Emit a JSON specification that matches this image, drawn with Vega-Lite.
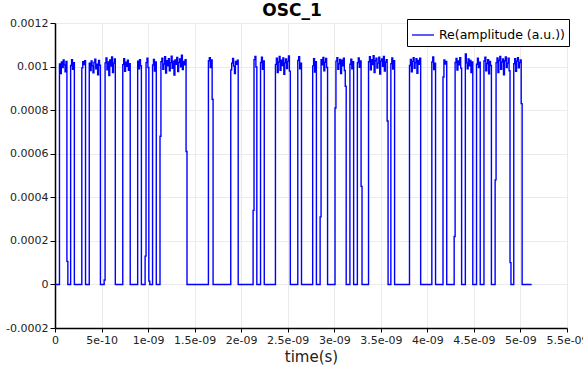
{
"$schema":"https://vega.github.io/schema/vega-lite/v6.json",
"width":512,"height":305,
"autosize":{"type":"none"},
"padding":{"left":55,"top":23,"right":16,"bottom":40},
"background":"white",
"title":{"text":"OSC_1","fontSize":17,"fontWeight":"bold","font":"DejaVu Sans","color":"black","anchor":"middle","frame":"group","dx":-19,"dy":7,"offset":4},
"data":{"values":[
{"t":0,"v":0},
{"t":48e-12,"v":1012e-6},{"t":58e-12,"v":968e-6},{"t":68e-12,"v":1021e-6},{"t":78e-12,"v":995e-6},{"t":88e-12,"v":1030e-6},{"t":98e-12,"v":1008e-6},{"t":108e-12,"v":976e-6},{"t":118e-12,"v":1024e-6},{"t":128e-12,"v":106e-6},{"t":138e-12,"v":0},
{"t":168e-12,"v":1005e-6},{"t":178e-12,"v":1031e-6},{"t":188e-12,"v":987e-6},{"t":198e-12,"v":1018e-6},{"t":208e-12,"v":0},
{"t":288e-12,"v":994e-6},{"t":298e-12,"v":1022e-6},{"t":308e-12,"v":1009e-6},{"t":318e-12,"v":1027e-6},{"t":328e-12,"v":0},
{"t":368e-12,"v":1015e-6},{"t":378e-12,"v":982e-6},{"t":388e-12,"v":1026e-6},{"t":398e-12,"v":1003e-6},{"t":408e-12,"v":971e-6},{"t":418e-12,"v":1019e-6},{"t":428e-12,"v":1034e-6},{"t":438e-12,"v":990e-6},{"t":448e-12,"v":1011e-6},{"t":458e-12,"v":962e-6},{"t":468e-12,"v":1028e-6},{"t":478e-12,"v":1006e-6},{"t":488e-12,"v":0},
{"t":528e-12,"v":20e-6},{"t":538e-12,"v":1017e-6},{"t":548e-12,"v":1040e-6},{"t":558e-12,"v":985e-6},{"t":568e-12,"v":1021e-6},{"t":578e-12,"v":959e-6},{"t":588e-12,"v":1030e-6},{"t":598e-12,"v":1002e-6},{"t":608e-12,"v":1044e-6},{"t":618e-12,"v":973e-6},{"t":628e-12,"v":1016e-6},{"t":638e-12,"v":1035e-6},{"t":648e-12,"v":0},
{"t":728e-12,"v":1009e-6},{"t":738e-12,"v":1036e-6},{"t":748e-12,"v":978e-6},{"t":758e-12,"v":1020e-6},{"t":768e-12,"v":1001e-6},{"t":778e-12,"v":1029e-6},{"t":788e-12,"v":983e-6},{"t":798e-12,"v":1013e-6},{"t":808e-12,"v":0},
{"t":888e-12,"v":1025e-6},{"t":898e-12,"v":990e-6},{"t":908e-12,"v":1032e-6},{"t":918e-12,"v":1004e-6},{"t":928e-12,"v":0},
{"t":968e-12,"v":130e-6},{"t":978e-12,"v":1018e-6},{"t":988e-12,"v":1038e-6},{"t":998e-12,"v":996e-6},{"t":1008e-12,"v":15e-6},{"t":1018e-12,"v":0},
{"t":1048e-12,"v":1007e-6},{"t":1058e-12,"v":1033e-6},{"t":1068e-12,"v":979e-6},{"t":1078e-12,"v":1021e-6},{"t":1088e-12,"v":0},
{"t":1128e-12,"v":680e-6},{"t":1138e-12,"v":1022e-6},{"t":1148e-12,"v":1039e-6},{"t":1158e-12,"v":988e-6},{"t":1168e-12,"v":1012e-6},{"t":1178e-12,"v":1045e-6},{"t":1188e-12,"v":970e-6},{"t":1198e-12,"v":1027e-6},{"t":1208e-12,"v":1003e-6},{"t":1218e-12,"v":1036e-6},{"t":1228e-12,"v":981e-6},{"t":1238e-12,"v":1018e-6},{"t":1248e-12,"v":1048e-6},{"t":1258e-12,"v":992e-6},{"t":1268e-12,"v":1025e-6},{"t":1278e-12,"v":961e-6},{"t":1288e-12,"v":1030e-6},{"t":1298e-12,"v":1010e-6},{"t":1308e-12,"v":1042e-6},{"t":1318e-12,"v":977e-6},{"t":1328e-12,"v":1019e-6},{"t":1338e-12,"v":1035e-6},{"t":1348e-12,"v":999e-6},{"t":1358e-12,"v":1052e-6},{"t":1368e-12,"v":986e-6},{"t":1378e-12,"v":1024e-6},{"t":1388e-12,"v":1008e-6},{"t":1398e-12,"v":1031e-6},{"t":1408e-12,"v":610e-6},{"t":1418e-12,"v":0},
{"t":1648e-12,"v":1027e-6},{"t":1658e-12,"v":1041e-6},{"t":1668e-12,"v":995e-6},{"t":1678e-12,"v":1030e-6},{"t":1688e-12,"v":850e-6},{"t":1698e-12,"v":0},
{"t":1888e-12,"v":985e-6},{"t":1898e-12,"v":1016e-6},{"t":1908e-12,"v":1037e-6},{"t":1918e-12,"v":1002e-6},{"t":1928e-12,"v":968e-6},{"t":1938e-12,"v":1024e-6},{"t":1948e-12,"v":1011e-6},{"t":1958e-12,"v":1029e-6},{"t":1968e-12,"v":0},
{"t":2128e-12,"v":340e-6},{"t":2138e-12,"v":1032e-6},{"t":2148e-12,"v":1047e-6},{"t":2158e-12,"v":998e-6},{"t":2168e-12,"v":0},
{"t":2208e-12,"v":1019e-6},{"t":2218e-12,"v":1043e-6},{"t":2228e-12,"v":987e-6},{"t":2238e-12,"v":1026e-6},{"t":2248e-12,"v":0},
{"t":2368e-12,"v":1010e-6},{"t":2378e-12,"v":1038e-6},{"t":2388e-12,"v":972e-6},{"t":2398e-12,"v":1021e-6},{"t":2408e-12,"v":1046e-6},{"t":2418e-12,"v":983e-6},{"t":2428e-12,"v":1029e-6},{"t":2438e-12,"v":1005e-6},{"t":2448e-12,"v":1040e-6},{"t":2458e-12,"v":964e-6},{"t":2468e-12,"v":1017e-6},{"t":2478e-12,"v":1035e-6},{"t":2488e-12,"v":991e-6},{"t":2498e-12,"v":1024e-6},{"t":2508e-12,"v":1049e-6},{"t":2518e-12,"v":979e-6},{"t":2528e-12,"v":0},
{"t":2608e-12,"v":1028e-6},{"t":2618e-12,"v":1045e-6},{"t":2628e-12,"v":990e-6},{"t":2638e-12,"v":1015e-6},{"t":2648e-12,"v":0},
{"t":2768e-12,"v":1003e-6},{"t":2778e-12,"v":1036e-6},{"t":2788e-12,"v":975e-6},{"t":2798e-12,"v":1022e-6},{"t":2808e-12,"v":0},
{"t":2848e-12,"v":310e-6},{"t":2858e-12,"v":1031e-6},{"t":2868e-12,"v":1008e-6},{"t":2878e-12,"v":1042e-6},{"t":2888e-12,"v":981e-6},{"t":2898e-12,"v":1020e-6},{"t":2908e-12,"v":1037e-6},{"t":2918e-12,"v":996e-6},{"t":2928e-12,"v":0},
{"t":3008e-12,"v":810e-6},{"t":3018e-12,"v":1025e-6},{"t":3028e-12,"v":1041e-6},{"t":3038e-12,"v":987e-6},{"t":3048e-12,"v":1013e-6},{"t":3058e-12,"v":1033e-6},{"t":3068e-12,"v":968e-6},{"t":3078e-12,"v":1029e-6},{"t":3088e-12,"v":1004e-6},{"t":3098e-12,"v":1038e-6},{"t":3108e-12,"v":982e-6},{"t":3118e-12,"v":910e-6},{"t":3128e-12,"v":0},
{"t":3168e-12,"v":1011e-6},{"t":3178e-12,"v":1034e-6},{"t":3188e-12,"v":990e-6},{"t":3198e-12,"v":1022e-6},{"t":3208e-12,"v":0},
{"t":3248e-12,"v":1018e-6},{"t":3258e-12,"v":1040e-6},{"t":3268e-12,"v":997e-6},{"t":3278e-12,"v":1026e-6},{"t":3288e-12,"v":450e-6},{"t":3298e-12,"v":0},
{"t":3368e-12,"v":1022e-6},{"t":3378e-12,"v":1045e-6},{"t":3388e-12,"v":985e-6},{"t":3398e-12,"v":1031e-6},{"t":3408e-12,"v":1009e-6},{"t":3418e-12,"v":1050e-6},{"t":3428e-12,"v":972e-6},{"t":3438e-12,"v":1027e-6},{"t":3448e-12,"v":1038e-6},{"t":3458e-12,"v":993e-6},{"t":3468e-12,"v":1016e-6},{"t":3478e-12,"v":1043e-6},{"t":3488e-12,"v":966e-6},{"t":3498e-12,"v":1025e-6},{"t":3508e-12,"v":1035e-6},{"t":3518e-12,"v":1001e-6},{"t":3528e-12,"v":1047e-6},{"t":3538e-12,"v":979e-6},{"t":3548e-12,"v":1020e-6},{"t":3558e-12,"v":1032e-6},{"t":3568e-12,"v":750e-6},{"t":3578e-12,"v":0},
{"t":3608e-12,"v":1013e-6},{"t":3618e-12,"v":1040e-6},{"t":3628e-12,"v":989e-6},{"t":3638e-12,"v":1027e-6},{"t":3648e-12,"v":0},
{"t":3808e-12,"v":1005e-6},{"t":3818e-12,"v":1033e-6},{"t":3828e-12,"v":976e-6},{"t":3838e-12,"v":1024e-6},{"t":3848e-12,"v":1041e-6},{"t":3858e-12,"v":992e-6},{"t":3868e-12,"v":1018e-6},{"t":3878e-12,"v":1036e-6},{"t":3888e-12,"v":969e-6},{"t":3898e-12,"v":1028e-6},{"t":3908e-12,"v":1010e-6},{"t":3918e-12,"v":1039e-6},{"t":3928e-12,"v":0},
{"t":4048e-12,"v":1021e-6},{"t":4058e-12,"v":1044e-6},{"t":4068e-12,"v":986e-6},{"t":4078e-12,"v":1015e-6},{"t":4088e-12,"v":0},
{"t":4168e-12,"v":952e-6},{"t":4178e-12,"v":1030e-6},{"t":4188e-12,"v":1012e-6},{"t":4198e-12,"v":1024e-6},{"t":4208e-12,"v":0},
{"t":4288e-12,"v":220e-6},{"t":4298e-12,"v":1019e-6},{"t":4308e-12,"v":1037e-6},{"t":4318e-12,"v":984e-6},{"t":4328e-12,"v":1026e-6},{"t":4338e-12,"v":1008e-6},{"t":4348e-12,"v":1041e-6},{"t":4358e-12,"v":993e-6},{"t":4368e-12,"v":0},
{"t":4408e-12,"v":1058e-6},{"t":4418e-12,"v":1017e-6},{"t":4428e-12,"v":990e-6},{"t":4438e-12,"v":1035e-6},{"t":4448e-12,"v":1003e-6},{"t":4458e-12,"v":1028e-6},{"t":4468e-12,"v":972e-6},{"t":4478e-12,"v":1021e-6},{"t":4488e-12,"v":0},
{"t":4528e-12,"v":1011e-6},{"t":4538e-12,"v":1039e-6},{"t":4548e-12,"v":995e-6},{"t":4558e-12,"v":1020e-6},{"t":4568e-12,"v":0},
{"t":4608e-12,"v":1026e-6},{"t":4618e-12,"v":1043e-6},{"t":4628e-12,"v":981e-6},{"t":4638e-12,"v":1014e-6},{"t":4648e-12,"v":1032e-6},{"t":4658e-12,"v":967e-6},{"t":4668e-12,"v":1024e-6},{"t":4678e-12,"v":1005e-6},{"t":4688e-12,"v":0},
{"t":4728e-12,"v":480e-6},{"t":4738e-12,"v":1018e-6},{"t":4748e-12,"v":1040e-6},{"t":4758e-12,"v":973e-6},{"t":4768e-12,"v":1029e-6},{"t":4778e-12,"v":1046e-6},{"t":4788e-12,"v":988e-6},{"t":4798e-12,"v":1021e-6},{"t":4808e-12,"v":1035e-6},{"t":4818e-12,"v":962e-6},{"t":4828e-12,"v":1027e-6},{"t":4838e-12,"v":1044e-6},{"t":4848e-12,"v":995e-6},{"t":4858e-12,"v":1016e-6},{"t":4868e-12,"v":1038e-6},{"t":4878e-12,"v":981e-6},{"t":4888e-12,"v":100e-6},{"t":4898e-12,"v":0},
{"t":4928e-12,"v":1013e-6},{"t":4938e-12,"v":1036e-6},{"t":4948e-12,"v":978e-6},{"t":4958e-12,"v":1025e-6},{"t":4968e-12,"v":1041e-6},{"t":4978e-12,"v":994e-6},{"t":4988e-12,"v":1019e-6},{"t":4998e-12,"v":1030e-6},{"t":5008e-12,"v":830e-6},{"t":5018e-12,"v":0},
{"t":5120e-12,"v":0}
]},
"mark":{"type":"line","interpolate":"step-after","strokeWidth":1.4,"clip":true},
"encoding":{
"x":{"field":"t","type":"quantitative","scale":{"domain":[0,5.5e-9],"nice":false,"zero":false},
"axis":{"title":"time(s)","values":[0,5e-10,1e-9,1.5e-9,2e-9,2.5e-9,3e-9,3.5e-9,4e-9,4.5e-9,5e-9,5.5e-9],
"labelExpr":"datum.value == 0 ? '0' : replace(format(datum.value, '~e'), regexp('e-([0-9])$'), 'e-0$1')",
"grid":true,"gridColor":"#ebebeb","gridWidth":1,"domainColor":"black","domainWidth":1.5,"tickColor":"black","tickSize":4,"tickWidth":1,
"labelFont":"DejaVu Sans","labelFontSize":11,"labelColor":"#222222","labelPadding":2,"labelFlush":false,"labelOverlap":false,
"titleFont":"DejaVu Sans","titleFontSize":15,"titleFontWeight":"normal","titleColor":"#222222","titlePadding":4}},
"y":{"field":"v","type":"quantitative","scale":{"domain":[-0.0002,0.0012],"nice":false,"zero":false},
"axis":{"title":null,"values":[-0.0002,0,0.0002,0.0004,0.0006,0.0008,0.001,0.0012],
"labelExpr":"replace(format(datum.value, '~g'), '−', '-')",
"grid":true,"gridColor":"#ebebeb","gridWidth":1,"domainColor":"black","domainWidth":1.5,"tickColor":"black","tickSize":5,"tickWidth":1,
"labelFont":"DejaVu Sans","labelFontSize":11,"labelColor":"#222222","labelPadding":2}},
"color":{"datum":"Re(amplitude (a.u.))","type":"nominal","scale":{"range":["#0000ff"]},
"legend":{"title":null,"orient":"none","legendX":352,"legendY":-4,"padding":4,"strokeColor":"black","fillColor":"white","cornerRadius":0,
"symbolType":"stroke","symbolSize":484,"symbolStrokeWidth":1.3,"labelFont":"DejaVu Sans","labelFontSize":12.5,"labelColor":"black","labelOffset":4}}
},
"config":{"view":{"stroke":null}}
}
